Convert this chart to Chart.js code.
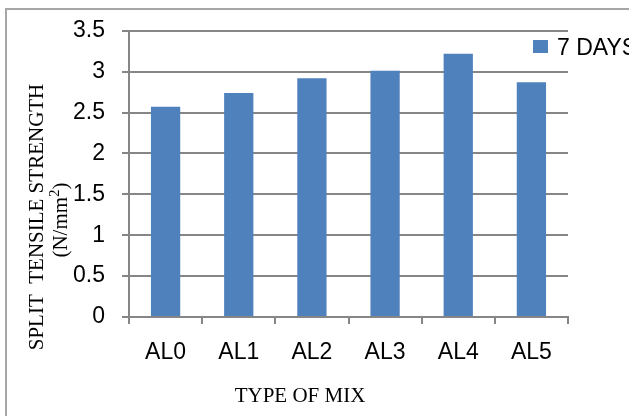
<!DOCTYPE html>
<html>
<head>
<meta charset="utf-8">
<script src="https://cdn.jsdelivr.net/npm/chart.js@4"></script>
<style>
body { margin: 0; background: #fff; }
#wrap { position: relative; width: 629px; height: 416px; overflow: hidden; }
#frame { position: absolute; left: 5px; top: 8px; right: -4px; bottom: -4px; border-left: 2px solid #a6a6a6; border-top: 2px solid #a6a6a6; }
canvas { position: absolute; left: 0; top: 0; }
</style>
</head>
<body>
<div id="wrap">
  <div id="frame"></div>
  <canvas id="chart" width="629" height="416"></canvas>
</div>
<script>
// data
const mixTypes = ['AL0', 'AL1', 'AL2', 'AL3', 'AL4', 'AL5'];
const strength7Days = [2.57, 2.74, 2.92, 3.01, 3.22, 2.87];
const yTickLabels = ['0', '0.5', '1', '1.5', '2', '2.5', '3', '3.5'];
const seriesName = '7 DAYS';
const yTitleLine1 = 'SPLIT  TENSILE STRENGTH';
const yTitleUnit = ['(N/mm', '2', ')'];
const xTitle = 'TYPE OF MIX';

const barColor = '#4f81bd';
const gridColor = '#868686';
const serif = '"Liberation Serif", "Times New Roman", serif';
const sans = '"Liberation Sans", Arial, sans-serif';

// axis titles and legend drawn by hand, placed like the original
const extraText = {
    id: 'extraText',
    afterDraw(chart) {
        const ctx = chart.ctx;
        ctx.save();
        ctx.fillStyle = '#000';
        ctx.font = '21px ' + serif;
        ctx.textAlign = 'center';
        ctx.textBaseline = 'alphabetic';

        // y title, first line
        ctx.save();
        ctx.translate(43, 217);
        ctx.rotate(-Math.PI / 2);
        ctx.fillText(yTitleLine1, 0, 0);
        ctx.restore();

        // y title, unit line with superscript
        ctx.save();
        ctx.translate(67, 220);
        ctx.rotate(-Math.PI / 2);
        ctx.textAlign = 'left';
        const w0 = ctx.measureText(yTitleUnit[0]).width;
        const w2 = ctx.measureText(yTitleUnit[2]).width;
        ctx.font = '15px ' + serif;
        const w1 = ctx.measureText(yTitleUnit[1]).width;
        let x = -(w0 + w1 + w2) / 2;
        ctx.font = '21px ' + serif;
        ctx.fillText(yTitleUnit[0], x, 0);
        x += w0;
        ctx.font = '15px ' + serif;
        ctx.fillText(yTitleUnit[1], x, -8);
        x += w1;
        ctx.font = '21px ' + serif;
        ctx.fillText(yTitleUnit[2], x, 0);
        ctx.restore();

        // x title
        ctx.fillText(xTitle, 300, 402);

        // legend
        ctx.fillStyle = barColor;
        ctx.fillRect(533, 40, 15, 13);
        ctx.fillStyle = '#000';
        ctx.textAlign = 'left';
        ctx.font = '23px ' + sans;
        ctx.fillText(chart.data.datasets[0].label, 557, 55);
        ctx.restore();
    }
};

const ctx = document.getElementById('chart').getContext('2d');
const chart = new Chart(ctx, {
    type: 'bar',
    data: {
        labels: mixTypes,
        datasets: [{
            label: seriesName,
            data: strength7Days,
            backgroundColor: barColor,
            borderWidth: 0,
            barPercentage: 0.4,
            categoryPercentage: 1.0
        }]
    },
    options: {
        responsive: false,
        animation: false,
        layout: { padding: { top: 26, right: 61, left: 0, bottom: 0 } },
        plugins: {
            legend: { display: false },
            tooltip: { enabled: false }
        },
        scales: {
            x: {
                afterFit: scale => { scale.height = 99; },
                grid: {
                    drawOnChartArea: false,
                    drawTicks: true,
                    tickLength: 7,
                    color: gridColor,
                    lineWidth: 2
                },
                border: { display: true, color: gridColor, width: 2 },
                ticks: {
                    color: '#000',
                    padding: 15,
                    font: { family: sans, size: 23 }
                }
            },
            y: {
                min: 0,
                max: 3.5,
                afterFit: scale => { scale.width = 129; },
                grid: {
                    drawTicks: true,
                    tickLength: 7,
                    color: gridColor,
                    lineWidth: 2
                },
                border: { display: true, color: gridColor, width: 2 },
                ticks: {
                    stepSize: 0.5,
                    color: '#000',
                    padding: 17,
                    callback: (value, i) => yTickLabels[i],
                    font: { family: sans, size: 23 }
                }
            }
        }
    },
    plugins: [extraText]
});
</script>
</body>
</html>
